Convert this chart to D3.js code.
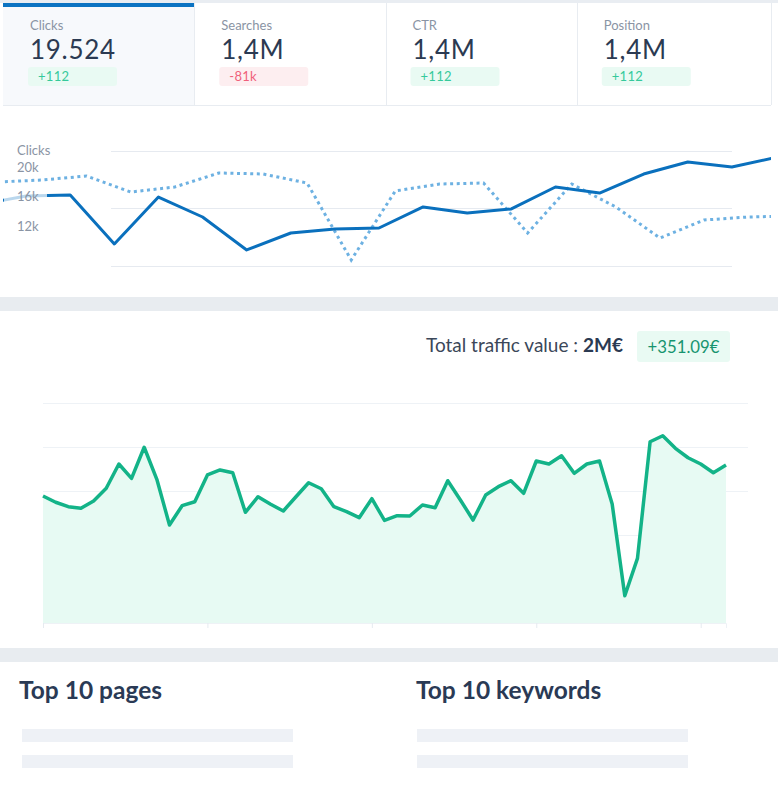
<!DOCTYPE html>
<html><head><meta charset="utf-8">
<script src="https://cdn.jsdelivr.net/npm/d3@7"></script>
<style>
html,body{margin:0;padding:0;background:#fff;}
svg{display:block;font-family:Lato,"Noto Sans",sans-serif;}
</style></head>
<body>
<script>
// ---------- DATA ----------
const cardTitles = ["Clicks","Searches","CTR","Position"];
const cardValues = ["19.524","1,4M","1,4M","1,4M"];
const cardDeltas = ["+112","-81k","+112","+112"];
const cardDeltaPositive = [true,false,true,true];

const clickTicks = [20000,16000,12000];
const clickTickLabels = ["20k","16k","12k"];
const clicksCurrent = [14980,16070,16200,9560,15930,13220,8750,11050,11590,11730,14580,13760,14310,17290,16470,19050,20680,20000,21290];
const clicksPrevious = [17970,18240,18780,16610,17290,19190,19050,17830,7390,16750,17690,17830,11050,17690,14580,10370,12810,13220,13360];
const previousOffset = 0.37; // previous period shifted on the index axis
const clickGrid = [22200,14400,6600];

const trafficValues = [144.3,137.2,132.2,130.3,138.6,153.1,180.7,164.4,199.7,163.3,111.4,133.3,137.8,168.2,173.9,170.8,125.8,143.5,134.9,127.3,143.5,159.4,152.6,132.2,126.5,119.7,141.3,116.5,121.9,121.6,134.1,131.0,161.7,139.8,117.0,145.5,154.9,161.7,147.4,184.1,180.7,190.1,170.1,180.7,184.1,135.2,31.0,73.5,206.0,212.8,198.5,187.8,180.7,170.8,179.5];
const trafficGrid = [150,200,250];
const trafficInnerGrid = [100];
const trafficTicks = [0,13,26,39,52];
const totalLabel = "Total traffic value : ";
const totalValue = "2M€";
const totalDelta = "+351.09€";

const listTitles = ["Top 10 pages","Top 10 keywords"];

// ---------- DRAW ----------
const W = 778, H = 787;
const svg = d3.select("body").append("svg").attr("width",W).attr("height",H);

// top strip
svg.append("rect").attr("x",0).attr("y",0).attr("width",W).attr("height",3).attr("fill","#e9edf2");

// cards
const cardX = d3.scaleBand().domain(d3.range(cardTitles.length)).range([3,768]);
svg.append("rect").attr("x",cardX(0)).attr("y",3).attr("width",cardX.bandwidth()).attr("height",102).attr("fill","#f7f9fc");
svg.append("rect").attr("x",cardX(0)).attr("y",3).attr("width",cardX.bandwidth()).attr("height",4).attr("fill","#0b73c2");
svg.append("line").attr("x1",3).attr("x2",771).attr("y1",105.5).attr("y2",105.5).attr("stroke","#e8ecf1");
[1,2,3].forEach(i=>{
  svg.append("line").attr("x1",Math.round(cardX(i))+0.5).attr("x2",Math.round(cardX(i))+0.5).attr("y1",3).attr("y2",105).attr("stroke","#e8ecf1");
});
svg.append("line").attr("x1",771.5).attr("x2",771.5).attr("y1",3).attr("y2",105).attr("stroke","#e8ecf1");

const cards = svg.selectAll("g.card").data(cardTitles).join("g").attr("class","card")
  .attr("transform",(d,i)=>`translate(${cardX(i)+27},0)`);
cards.append("text").attr("x",0).attr("y",30).attr("font-size",13).attr("fill","#8a94a4").text(d=>d);
cards.append("text").attr("x",0).attr("y",58.5).attr("font-size",26).attr("letter-spacing",0.7).attr("fill","#2b3a52").text((d,i)=>cardValues[i]);
cards.append("rect").attr("x",-2).attr("y",67).attr("width",89).attr("height",19).attr("rx",3)
  .attr("fill",(d,i)=>cardDeltaPositive[i]?"#e9faf3":"#fdeef0");
cards.append("text").attr("x",8).attr("y",81).attr("font-size",13).attr("letter-spacing",0.3)
  .attr("fill",(d,i)=>cardDeltaPositive[i]?"#35c99b":"#f0607b").text((d,i)=>cardDeltas[i]);

// ---------- top clicks chart ----------
const xTop = d3.scaleLinear().domain([0,clicksCurrent.length-1]).range([-18,776]);
const yTop = d3.scaleLinear().domain([12000,20000]).range([226,167]);

svg.selectAll("line.cgrid").data(clickGrid).join("line").attr("class","cgrid")
  .attr("x1",111).attr("x2",732).attr("y1",d=>Math.round(yTop(d))+0.5).attr("y2",d=>Math.round(yTop(d))+0.5)
  .attr("stroke","#e6eaf0").attr("stroke-width",1.2);

svg.append("clipPath").attr("id","clipTop").append("rect").attr("x",3).attr("y",110).attr("width",768).attr("height",185);
const gTop = svg.append("g").attr("clip-path","url(#clipTop)");
const lineCur = d3.line().x((d,i)=>xTop(i)).y(d=>yTop(d));
const linePrev = d3.line().x((d,i)=>xTop(i+previousOffset)).y(d=>yTop(d));
gTop.append("path").datum(clicksPrevious).attr("d",linePrev).attr("fill","none")
  .attr("stroke","#6db1e2").attr("stroke-width",3).attr("stroke-dasharray","3,3.6");
gTop.append("path").datum(clicksCurrent).attr("d",lineCur).attr("fill","none")
  .attr("stroke","#0a70bd").attr("stroke-width",3).attr("stroke-linejoin","round");

const tickG = svg.selectAll("g.ctick").data(clickTicks).join("g").attr("class","ctick");
tickG.append("rect").attr("x",4).attr("y",d=>yTop(d)-7).attr("width",43).attr("height",14).attr("fill","#fff").attr("opacity",0.72);
tickG.append("text").attr("x",17).attr("y",d=>yTop(d)).attr("dy","0.36em").attr("font-size",13).attr("fill","#8a94a4")
  .text((d,i)=>clickTickLabels[i]);
svg.append("text").attr("x",17).attr("y",155).attr("font-size",13).attr("fill","#8a94a4").text("Clicks");

// separator
svg.append("rect").attr("x",0).attr("y",297).attr("width",W).attr("height",14).attr("fill","#e8ecf0");

// ---------- traffic chart ----------
const tt = svg.append("text").attr("x",426).attr("y",352).attr("font-size",19).attr("fill","#3b4759");
tt.append("tspan").text(totalLabel);
tt.append("tspan").attr("font-weight","bold").attr("fill","#2b3a52").text(totalValue);
svg.append("rect").attr("x",637).attr("y",331).attr("width",93).attr("height",31).attr("rx",3).attr("fill","#e9faf3");
svg.append("text").attr("x",683.5).attr("y",352.5).attr("text-anchor","middle").attr("font-size",16.8).attr("fill","#17946f").text(totalDelta);

const xG = d3.scaleLinear().domain([0,trafficValues.length-1]).range([43,726]);
const yG = d3.scaleLinear().domain([0,250]).range([623,403]);

svg.selectAll("line.tgrid").data(trafficGrid).join("line").attr("class","tgrid")
  .attr("x1",43).attr("x2",748).attr("y1",d=>Math.round(yG(d))+0.5).attr("y2",d=>Math.round(yG(d))+0.5)
  .attr("stroke","#eef2f6").attr("stroke-width",1.2);
svg.selectAll("line.tgrid2").data(trafficInnerGrid).join("line").attr("class","tgrid2")
  .attr("x1",xG(0)).attr("x2",xG(trafficValues.length-1)).attr("y1",d=>Math.round(yG(d))+0.5).attr("y2",d=>Math.round(yG(d))+0.5)
  .attr("stroke","#eef2f6").attr("stroke-width",1.2);

const area = d3.area().x((d,i)=>xG(i)).y0(yG(0)).y1(d=>yG(d));
svg.append("path").datum(trafficValues).attr("d",area).attr("fill","#e7faf3");
const lineG = d3.line().x((d,i)=>xG(i)).y(d=>yG(d));
svg.append("path").datum(trafficValues).attr("d",lineG).attr("fill","none")
  .attr("stroke","#13b388").attr("stroke-width",3.5).attr("stroke-linejoin","round");

const axisG = svg.append("g").attr("transform",`translate(0,${yG(0)})`)
  .call(d3.axisBottom(xG).tickValues(trafficTicks).tickSize(5).tickFormat(""));
axisG.select(".domain").attr("stroke","#eef2f6");
axisG.selectAll(".tick line").attr("stroke","#e6ebf0");

// separator
svg.append("rect").attr("x",0).attr("y",648).attr("width",W).attr("height",14).attr("fill","#e8ecf0");

// ---------- lists ----------
const listX = d3.scaleOrdinal().domain(listTitles).range([19,416]);
svg.selectAll("text.lt").data(listTitles).join("text").attr("class","lt")
  .attr("x",d=>listX(d)).attr("y",699).attr("font-size",24.5).attr("font-weight","bold").attr("fill","#2a3a55").text(d=>d);
listTitles.forEach((t,k)=>{
  [0,1].forEach(r=>{
    svg.append("rect").attr("x",listX(t)+(k?1:3)).attr("y",729+r*26).attr("width",271).attr("height",13).attr("fill","#eef1f6");
  });
});
</script>
</body></html>
